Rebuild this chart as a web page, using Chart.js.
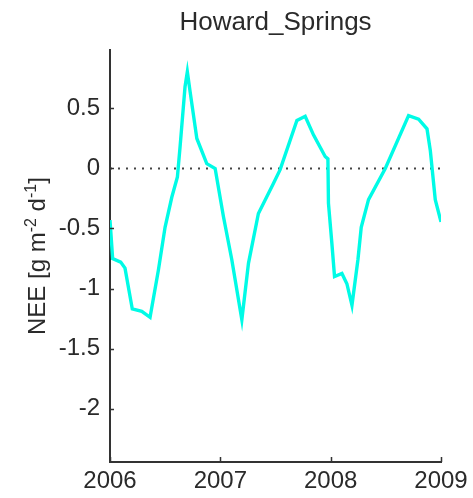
<!DOCTYPE html>
<html>
<head>
<meta charset="utf-8">
<title>Howard_Springs NEE</title>
<script src="https://cdn.jsdelivr.net/npm/chart.js@4/dist/chart.umd.min.js"></script>
<style>
  html, body { margin: 0; padding: 0; background: #fff; }
  #nee { display: block; }
</style>
</head>
<body>
<canvas id="nee" width="473" height="498"></canvas>
<script>
    /********** DATA **********/
    // decimal years and NEE values (g m-2 d-1)
    const years = [2006.000, 2006.024, 2006.097, 2006.136, 2006.202, 2006.288, 2006.363, 2006.438,
                   2006.499, 2006.560, 2006.611, 2006.635, 2006.680, 2006.701, 2006.726, 2006.787,
                   2006.877, 2006.953, 2007.028, 2007.104, 2007.195, 2007.255, 2007.345, 2007.481,
                   2007.542, 2007.694, 2007.769, 2007.844, 2007.950, 2007.975, 2007.980, 2008.011,
                   2008.035, 2008.102, 2008.147, 2008.193, 2008.247, 2008.277, 2008.343, 2008.495,
                   2008.706, 2008.797, 2008.873, 2008.903, 2008.948, 2009.000];
    const nee = [-0.43, -0.75, -0.78, -0.83, -1.17, -1.19, -1.24, -0.85,
                 -0.49, -0.24, -0.07, 0.18, 0.68, 0.805, 0.64, 0.25,
                 0.04, 0.0, -0.40, -0.76, -1.26, -0.79, -0.375, -0.125,
                 -0.01, 0.40, 0.435, 0.28, 0.10, 0.08, -0.29, -0.625,
                 -0.90, -0.875, -0.96, -1.14, -0.76, -0.49, -0.26, 0.0,
                 0.44, 0.41, 0.33, 0.15, -0.26, -0.445];
    const xTicks = [2006, 2007, 2008, 2009];
    const yTicks = [-2, -1.5, -1, -0.5, 0, 0.5];
    const zeroLineX = [2006, 2009];

    const FONT = "'Liberation Sans', Arial, sans-serif";
    const AXIS_COLOR = '#333';
    const TEXT_COLOR = '#2a2a2a';

    /********** PLUGIN: tick marks verso l'interno + etichetta asse y **********/
    const matlabAxes = {
      id: 'matlabAxes',
      afterDraw(chart) {
        const ctx = chart.ctx;
        const area = chart.chartArea;
        const xs = chart.scales.x, ys = chart.scales.y;
        ctx.save();
        ctx.strokeStyle = AXIS_COLOR;
        ctx.lineWidth = 1.5;
        ctx.beginPath();
        yTicks.forEach(v => {
          const py = Math.round(ys.getPixelForValue(v)) + 0.5;
          ctx.moveTo(area.left, py);
          ctx.lineTo(area.left + 4, py);
        });
        xTicks.forEach(v => {
          const px = Math.round(xs.getPixelForValue(v)) + 0.5;
          ctx.moveTo(px, area.bottom);
          ctx.lineTo(px, area.bottom - 5);
        });
        ctx.stroke();

        // NEE [g m^-2 d^-1], ruotata
        const parts = [
          { t: 'NEE [g m', size: 24, rise: 0 },
          { t: '-2', size: 16, rise: 9 },
          { t: ' d', size: 24, rise: 0 },
          { t: '-1', size: 16, rise: 9 },
          { t: ']', size: 24, rise: 0 }
        ];
        let total = 0;
        parts.forEach(p => {
          ctx.font = p.size + 'px ' + FONT;
          p.w = ctx.measureText(p.t).width;
          total += p.w;
        });
        ctx.translate(45, (area.top + area.bottom) / 2);
        ctx.rotate(-Math.PI / 2);
        ctx.fillStyle = TEXT_COLOR;
        ctx.textBaseline = 'alphabetic';
        ctx.textAlign = 'left';
        let cx = -total / 2;
        parts.forEach(p => {
          ctx.font = p.size + 'px ' + FONT;
          ctx.fillText(p.t, cx, -p.rise);
          cx += p.w;
        });
        ctx.restore();
      }
    };

    /********** CHART **********/
    const ctx = document.getElementById('nee').getContext('2d');
    new Chart(ctx, {
      type: 'line',
      data: {
        datasets: [
          {
            label: 'NEE',
            data: years.map((y, i) => ({ x: y, y: nee[i] })),
            borderColor: '#00fbe6',
            borderWidth: 3.4,
            pointRadius: 0,
            tension: 0,
            fill: false
          },
          {
            label: 'zero',
            data: zeroLineX.map(x => ({ x: x, y: 0 })),
            borderColor: '#444',
            borderWidth: 2,
            borderDash: [2, 6],
            pointRadius: 0,
            fill: false
          }
        ]
      },
      options: {
        responsive: false,
        animation: false,
        layout: { padding: { left: 0, right: 32, top: 0, bottom: 0 } },
        plugins: {
          legend: { display: false },
          tooltip: { enabled: false },
          title: {
            display: true,
            text: 'Howard_Springs',
            fullSize: false,
            color: TEXT_COLOR,
            font: { family: FONT, size: 26, weight: 'normal' },
            padding: { top: 7, bottom: 12 }
          }
        },
        scales: {
          x: {
            type: 'linear',
            min: 2006,
            max: 2009,
            grid: { display: false, drawTicks: false },
            border: { display: true, color: AXIS_COLOR, width: 2 },
            ticks: {
              color: TEXT_COLOR,
              padding: 5,
              maxRotation: 0,
              font: { family: FONT, size: 24 },
              callback: v => String(v)
            },
            afterBuildTicks: s => { s.ticks = xTicks.map(v => ({ value: v })); },
            afterFit: s => { s.height = 36; }
          },
          y: {
            min: -2.445,
            max: 0.985,
            grid: { display: false, drawTicks: false },
            border: { display: true, color: AXIS_COLOR, width: 2 },
            ticks: {
              color: TEXT_COLOR,
              padding: 10,
              font: { family: FONT, size: 24 },
              callback: v => String(v)
            },
            afterBuildTicks: s => { s.ticks = yTicks.map(v => ({ value: v })); },
            afterFit: s => { s.width = 110; }
          }
        }
      },
      plugins: [matlabAxes]
    });
</script>
</body>
</html>
